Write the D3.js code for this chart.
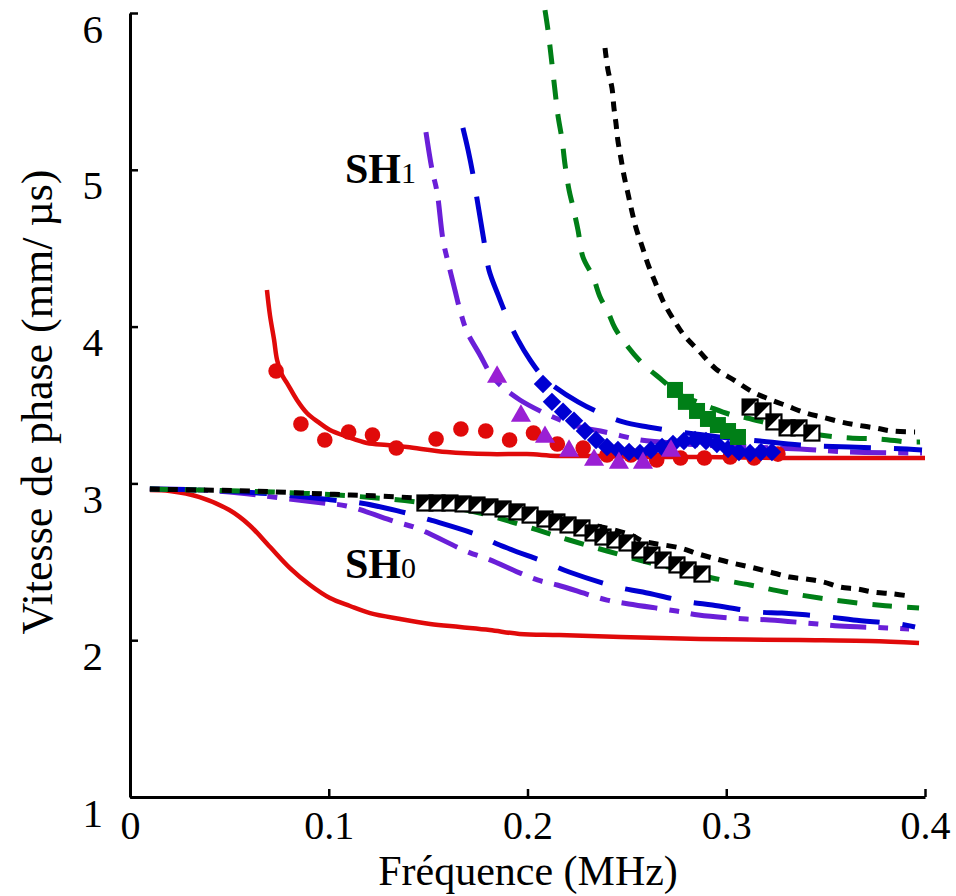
<!DOCTYPE html>
<html>
<head>
<meta charset="utf-8">
<script src="https://cdn.jsdelivr.net/npm/d3@7"></script>
<style>
  html, body { margin: 0; padding: 0; background: #ffffff; }
  svg { display: block; }
</style>
</head>
<body>
<div id="chart"></div>
<script>
// ---------------- DATA ----------------
const xTicks = [0, 0.1, 0.2, 0.3, 0.4];
const xTickLabels = ["0", "0.1", "0.2", "0.3", "0.4"];
const yTicks = [1, 2, 3, 4, 5, 6];
const yTickLabels = ["1", "2", "3", "4", "5", "6"];
const xTitle = "Fréquence (MHz)";
const yTitle = "Vitesse de phase (mm/ µs)";

// SH0 theoretical curves [frequency MHz, velocity mm/µs]
const sh0Red = [[0.010,2.958],[0.020,2.952],[0.035,2.913],[0.050,2.830],[0.060,2.735],[0.0705,2.594],[0.0805,2.460],[0.0906,2.352],[0.1006,2.269],[0.1107,2.218],[0.1208,2.173],[0.136,2.135],[0.151,2.103],[0.166,2.084],[0.181,2.065],[0.196,2.040],[0.216,2.033],[0.247,2.020],[0.287,2.008],[0.337,2.001],[0.372,1.995],[0.397,1.982]];
const sh0Purple = [[0.010,2.964],[0.035,2.958],[0.055,2.939],[0.072,2.913],[0.097,2.875],[0.109,2.856],[0.134,2.754],[0.144,2.716],[0.170,2.563],[0.180,2.518],[0.205,2.384],[0.215,2.352],[0.240,2.256],[0.251,2.231],[0.275,2.186],[0.286,2.161],[0.310,2.135],[0.322,2.129],[0.346,2.103],[0.357,2.091],[0.381,2.078],[0.392,2.071]];
const sh0Blue = [[0.010,2.964],[0.035,2.958],[0.072,2.932],[0.102,2.894],[0.116,2.875],[0.139,2.811],[0.151,2.767],[0.175,2.671],[0.186,2.607],[0.210,2.492],[0.221,2.435],[0.245,2.339],[0.258,2.307],[0.281,2.244],[0.293,2.224],[0.316,2.180],[0.328,2.173],[0.352,2.148],[0.364,2.129],[0.387,2.103],[0.395,2.084]];
const sh0Green = [[0.010,2.964],[0.035,2.958],[0.072,2.945],[0.111,2.920],[0.144,2.881],[0.176,2.811],[0.205,2.703],[0.221,2.639],[0.240,2.569],[0.262,2.492],[0.282,2.435],[0.293,2.397],[0.312,2.352],[0.329,2.307],[0.347,2.269],[0.366,2.237],[0.382,2.218],[0.397,2.205]];
const sh0Black = [[0.010,2.964],[0.035,2.958],[0.060,2.952],[0.086,2.939],[0.111,2.926],[0.136,2.913],[0.161,2.888],[0.186,2.843],[0.211,2.779],[0.233,2.735],[0.252,2.671],[0.258,2.633],[0.277,2.588],[0.286,2.550],[0.295,2.518],[0.303,2.492],[0.312,2.467],[0.322,2.435],[0.332,2.403],[0.340,2.390],[0.349,2.371],[0.357,2.339],[0.366,2.326],[0.374,2.307],[0.384,2.295],[0.392,2.282]];

// SH1 theoretical curves
const sh1Red = [[0.0689,4.233],[0.0704,4.074],[0.0725,3.915],[0.074,3.787],[0.0765,3.691],[0.079,3.640],[0.084,3.532],[0.089,3.449],[0.0946,3.392],[0.1006,3.341],[0.1097,3.296],[0.1192,3.258],[0.1293,3.245],[0.1394,3.232],[0.1595,3.200],[0.1811,3.187],[0.1997,3.187],[0.2148,3.175],[0.2365,3.175],[0.2616,3.168],[0.2868,3.168],[0.3371,3.162],[0.400,3.162]];
const sh1Purple = [[0.1489,5.241],[0.152,4.999],[0.1545,4.858],[0.1575,4.552],[0.160,4.412],[0.1635,4.233],[0.166,4.106],[0.1696,3.966],[0.1761,3.819],[0.1811,3.704],[0.1862,3.628],[0.1962,3.532],[0.2063,3.462],[0.2164,3.404],[0.2264,3.360],[0.239,3.328],[0.2566,3.277],[0.2667,3.264],[0.2868,3.245],[0.312,3.232],[0.3371,3.219],[0.3623,3.200],[0.3985,3.194]];
const sh1Blue = [[0.1675,5.267],[0.1701,5.126],[0.1726,4.967],[0.1746,4.814],[0.1766,4.661],[0.1786,4.508],[0.1806,4.361],[0.1852,4.202],[0.1897,4.061],[0.1952,3.915],[0.2013,3.787],[0.2078,3.679],[0.2138,3.615],[0.2254,3.520],[0.2365,3.449],[0.2481,3.392],[0.2606,3.360],[0.2803,3.321],[0.2969,3.296],[0.317,3.270],[0.3371,3.245],[0.3623,3.232],[0.3909,3.219],[0.3985,3.213]];
const sh1Green = [[0.2088,6.019],[0.2103,5.892],[0.2118,5.732],[0.2138,5.509],[0.2153,5.349],[0.2174,5.190],[0.2189,5.031],[0.2209,4.871],[0.2229,4.763],[0.2254,4.616],[0.2279,4.444],[0.233,4.316],[0.2365,4.189],[0.2405,4.093],[0.244,3.991],[0.2506,3.870],[0.2576,3.768],[0.2677,3.659],[0.2767,3.564],[0.2853,3.520],[0.2928,3.481],[0.3029,3.436],[0.3104,3.417],[0.3205,3.385],[0.3321,3.347],[0.3472,3.309],[0.3623,3.290],[0.3774,3.283],[0.3914,3.264],[0.3975,3.264]];
const sh1Black = [[0.239,5.777],[0.2405,5.636],[0.2425,5.522],[0.2435,5.394],[0.2445,5.298],[0.2455,5.184],[0.247,5.075],[0.2486,4.960],[0.2506,4.846],[0.2526,4.731],[0.2546,4.629],[0.2576,4.514],[0.2606,4.399],[0.2642,4.284],[0.2682,4.163],[0.2727,4.061],[0.2787,3.946],[0.2863,3.844],[0.2948,3.730],[0.3039,3.659],[0.3125,3.589],[0.3215,3.538],[0.3306,3.494],[0.3401,3.449],[0.3482,3.423],[0.3577,3.392],[0.3658,3.372],[0.3753,3.353],[0.3834,3.334],[0.395,3.328]];

// Experimental points
const expRedCircles = [[0.0735,3.717],[0.086,3.379],[0.098,3.277],[0.110,3.328],[0.122,3.309],[0.134,3.226],[0.154,3.283],[0.1665,3.347],[0.179,3.334],[0.191,3.277],[0.203,3.321],[0.215,3.251],[0.228,3.226],[0.240,3.181],[0.252,3.181],[0.265,3.149],[0.277,3.162],[0.289,3.162],[0.302,3.168],[0.314,3.162],[0.326,3.187]];
const expPurpleTriangles = [[0.1847,3.679],[0.1967,3.430],[0.2088,3.296],[0.2209,3.207],[0.2335,3.149],[0.246,3.130],[0.2581,3.130],[0.2722,3.207]];
const expBlueDiamonds = [[0.2078,3.634],[0.2123,3.520],[0.2179,3.457],[0.2234,3.399],[0.2289,3.334],[0.2345,3.277],[0.240,3.232],[0.2455,3.213],[0.2511,3.200],[0.2566,3.194],[0.2621,3.213],[0.2677,3.232],[0.2732,3.251],[0.2787,3.270],[0.2843,3.277],[0.2898,3.270],[0.2953,3.251],[0.3009,3.219],[0.3064,3.200],[0.312,3.194],[0.3175,3.200],[0.323,3.200]];
const expGreenSquares = [[0.2742,3.596],[0.2797,3.520],[0.2853,3.462],[0.2908,3.411],[0.2958,3.372],[0.3009,3.334],[0.3059,3.296]];
const expBWSquaresSH1 = [[0.312,3.487],[0.3185,3.462],[0.324,3.392],[0.3306,3.354],[0.3366,3.354],[0.3431,3.321]];
const expBWSquaresSH0 = [[0.1484,2.875],[0.1545,2.875],[0.161,2.875],[0.1676,2.869],[0.1746,2.862],[0.1811,2.850],[0.1877,2.837],[0.1947,2.818],[0.2013,2.798],[0.2088,2.773],[0.2148,2.754],[0.2204,2.735],[0.2274,2.716],[0.233,2.684],[0.238,2.658],[0.244,2.639],[0.2501,2.620],[0.2566,2.575],[0.2626,2.543],[0.2682,2.511],[0.2752,2.480],[0.2808,2.448],[0.2878,2.422]];

// ---------------- CHART ----------------
const W = 956, H = 896;
const FONT = '"Liberation Serif", "Times New Roman", Times, serif';
const RED = "#e00a0a", BLUE = "#0000d2", GREEN = "#007f17", PURPLE = "#6a1fd8", TRI = "#9a1fd4", BLACK = "#000000";

const svg = d3.select("#chart").append("svg")
  .attr("width", W).attr("height", H)
  .style("background", "#fff");

const x = d3.scaleLinear().domain([0, 0.4]).range([130, 925]);
const y = d3.scaleLinear().domain([1, 6]).range([797, 13]);

const line = d3.line().x(d => x(d[0])).y(d => y(d[1])).curve(d3.curveCatmullRom.alpha(0.5));

const curves = [
  {data: sh0Red, color: RED, dash: null, w: 4.5},
  {data: sh0Purple, color: PURPLE, dash: "36,12,10,12", w: 5},
  {data: sh0Blue, color: BLUE, dash: "47,23", w: 5},
  {data: sh0Green, color: GREEN, dash: "20,15", w: 5},
  {data: sh0Black, color: BLACK, dash: "10,8", w: 5},
  {data: sh1Red, color: RED, dash: null, w: 4.5},
  {data: sh1Purple, color: PURPLE, dash: "36,12,10,12", w: 5},
  {data: sh1Blue, color: BLUE, dash: "47,23", w: 5},
  {data: sh1Green, color: GREEN, dash: "20,15", w: 5},
  {data: sh1Black, color: BLACK, dash: "10,8", w: 5}
];

const gLines = svg.append("g");
curves.forEach(c => {
  gLines.append("path")
    .attr("d", line(c.data))
    .attr("fill", "none")
    .attr("stroke", c.color)
    .attr("stroke-width", c.w)
    .attr("stroke-dasharray", c.dash)
    .attr("stroke-linejoin", "round");
});

// Markers
const gM = svg.append("g");
gM.selectAll("circle.red").data(expRedCircles).join("circle")
  .attr("cx", d => x(d[0])).attr("cy", d => y(d[1])).attr("r", 7.8)
  .attr("fill", RED);

gM.selectAll("path.dia").data(expBlueDiamonds).join("path")
  .attr("d", d3.symbol().type(d3.symbolSquare).size(170))
  .attr("transform", d => `translate(${x(d[0])},${y(d[1])}) rotate(45)`)
  .attr("fill", BLUE);

gM.selectAll("path.tri").data(expPurpleTriangles).join("path")
  .attr("d", d3.symbol().type(d3.symbolTriangle).size(175))
  .attr("transform", d => `translate(${x(d[0])},${y(d[1])})`)
  .attr("fill", TRI);

gM.selectAll("rect.green").data(expGreenSquares).join("rect")
  .attr("x", d => x(d[0]) - 8).attr("y", d => y(d[1]) - 8)
  .attr("width", 16).attr("height", 16)
  .attr("fill", GREEN);

function bwSquares(data) {
  const s = 15;
  const g = gM.append("g");
  const m = g.selectAll("g").data(data).join("g")
    .attr("transform", d => `translate(${x(d[0])},${y(d[1])})`);
  m.append("rect").attr("x", -s/2).attr("y", -s/2).attr("width", s).attr("height", s)
    .attr("fill", "#fff").attr("stroke", BLACK).attr("stroke-width", 2.2);
  m.append("path").attr("d", `M${-s/2},${-s/2}L${s/2},${-s/2}L${-s/2},${s/2}Z`)
    .attr("fill", BLACK);
}
bwSquares(expBWSquaresSH0);
bwSquares(expBWSquaresSH1);

// Axes
const xAxis = d3.axisBottom(x).tickValues(xTicks)
  .tickFormat((d, i) => xTickLabels[i]).tickSizeInner(-8).tickSizeOuter(0).tickPadding(14);
const yAxis = d3.axisLeft(y).tickValues(yTicks)
  .tickFormat((d, i) => yTickLabels[i]).tickSizeInner(-8).tickSizeOuter(0).tickPadding(27);

const gx = svg.append("g").attr("transform", "translate(0,797)").call(xAxis);
const gy = svg.append("g").attr("transform", "translate(130,0)").call(yAxis);

[gx, gy].forEach(g => {
  g.select(".domain").attr("stroke", BLACK).attr("stroke-width", 3);
  g.selectAll(".tick line").attr("stroke", BLACK).attr("stroke-width", 2.5);
  g.selectAll(".tick text").attr("fill", BLACK)
    .style("font-family", FONT).style("font-size", "41px");
});
gy.selectAll(".tick text").attr("dy", "0.71em");
gx.selectAll(".tick text").style("font-size", "40px");

// Axis titles
svg.append("text")
  .attr("x", 528).attr("y", 885)
  .attr("text-anchor", "middle")
  .style("font-family", FONT).style("font-size", "42px")
  .text(xTitle);

svg.append("text")
  .attr("transform", "translate(52,402) rotate(-90)")
  .attr("text-anchor", "middle")
  .style("font-family", FONT).style("font-size", "44px")
  .text(yTitle);

// Mode labels
function modeLabel(px, py, main, sub) {
  const t = svg.append("text").attr("x", px).attr("y", py)
    .style("font-family", FONT);
  t.append("tspan").style("font-size", "42px").style("font-weight", "bold").text(main);
  t.append("tspan").style("font-size", "30px").text(sub);
}
modeLabel(345, 183, "SH", "1");
modeLabel(345, 578, "SH", "0");
</script>
</body>
</html>
